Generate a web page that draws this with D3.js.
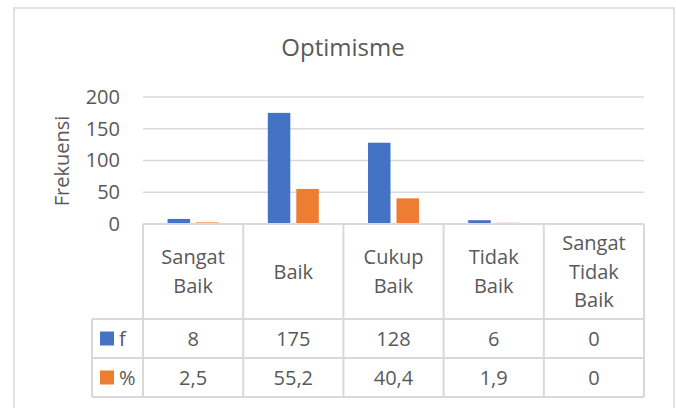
<!DOCTYPE html>
<html>
<head>
<meta charset="utf-8">
<script src="https://cdn.jsdelivr.net/npm/d3@7"></script>
<style>
    body { margin: 0; background: #fff; }
    svg text { font-family: "Open Sans", "Noto Sans", sans-serif; fill: #595959; }
</style>
</head>
<body>
<div class="chart"></div>
<script>
const categories = [["Sangat", "Baik"], ["Baik"], ["Cukup", "Baik"], ["Tidak", "Baik"], ["Sangat", "Tidak", "Baik"]]
const seriesNames = ["f", "%"]
const freq = [8, 175, 128, 6, 0]
const pct = [2.5, 55.2, 40.4, 1.9, 0]
const yTicks = [0, 50, 100, 150, 200]
const colors = ["#4472C4", "#ED7D31"]

const W = 676, H = 408
const plot = { left: 143, right: 644, top: 97, bottom: 224 }
const rowTop = [224, 319, 358, 397]  // header, f, %, end
const grid = "#d9d9d9"

const svg = d3.select(".chart")
    .append("svg")
    .attr("width", W)
    .attr("height", H)

// chart border
svg.append("rect")
    .attr("x", 14).attr("y", 8)
    .attr("width", 660).attr("height", 420)
    .attr("fill", "none")
    .attr("stroke", grid)
    .attr("stroke-width", 1.5)

const x = d3.scaleBand()
    .domain(d3.range(categories.length))
    .range([plot.left, plot.right])

const xs = d3.scaleBand()
    .domain(seriesNames)
    .range([x.bandwidth() / 2 - 25.5, x.bandwidth() / 2 + 25.5])
    .paddingInner(0.21)

const y = d3.scaleLinear().domain([0, 200]).range([plot.bottom, plot.top])

//title
svg.append("text")
    .attr("x", 343)
    .attr("y", 56)
    .attr("text-anchor", "middle")
    .style("font-size", "24px")
    .text("Optimisme")

//y axis
const yAxis = svg.append("g")
    .attr("transform", `translate(${plot.left}, 0)`)
    .call(d3.axisLeft(y).tickValues(yTicks).tickSize(0).tickPadding(23))
yAxis.select(".domain").remove()
yAxis.selectAll(".tick text")
    .style("font-size", "20px")
    .attr("font-family", null)
    .attr("fill", null)

// gridlines
svg.selectAll(".gridline")
    .data(yTicks.slice(1))
    .join("line")
    .attr("class", "gridline")
    .attr("x1", plot.left).attr("x2", plot.right)
    .attr("y1", d => y(d)).attr("y2", d => y(d))
    .attr("stroke", grid)
    .attr("stroke-width", 1.5)

//y axis label
svg.append("text")
    .attr("transform", "rotate(-90)")
    .attr("x", -161)
    .attr("y", 69)
    .attr("text-anchor", "middle")
    .style("font-size", "20px")
    .text("Frekuensi")

// bars
const seriesData = [freq, pct]
seriesData.forEach((vals, s) => {
    svg.selectAll(".bar" + s)
        .data(vals)
        .join("rect")
        .attr("class", "bar" + s)
        .attr("x", (d, i) => x(i) + xs(seriesNames[s]))
        .attr("y", d => y(d))
        .attr("width", xs.bandwidth())
        .attr("height", d => y(0) - y(d))
        .attr("fill", colors[s])
})

// data table
const table = svg.append("g")
const lineAttrs = sel => sel.attr("stroke", grid).attr("stroke-width", 2)

// horizontal lines
table.append("line").call(lineAttrs)
    .attr("x1", plot.left).attr("x2", plot.right)
    .attr("y1", rowTop[0]).attr("y2", rowTop[0])
rowTop.slice(1).forEach(yy => {
    table.append("line").call(lineAttrs)
        .attr("x1", 92).attr("x2", plot.right)
        .attr("y1", yy).attr("y2", yy)
})
// vertical lines
table.append("line").call(lineAttrs)
    .attr("x1", 92).attr("x2", 92)
    .attr("y1", rowTop[1]).attr("y2", rowTop[3])
d3.range(categories.length + 1).forEach(i => {
    const xx = i < categories.length ? x(i) : plot.right
    table.append("line").call(lineAttrs)
        .attr("x1", xx).attr("x2", xx)
        .attr("y1", rowTop[0]).attr("y2", rowTop[3])
})

// category headers
const lineH = 28.5
categories.forEach((lines, i) => {
    const cy = (rowTop[0] + rowTop[1]) / 2
    const t = table.append("text")
        .attr("text-anchor", "middle")
        .style("font-size", "20px")
    lines.forEach((ln, j) => {
        t.append("tspan")
            .attr("x", x(i) + x.bandwidth() / 2)
            .attr("y", cy + (j - (lines.length - 1) / 2) * lineH)
            .attr("dy", "0.35em")
            .text(ln)
    })
})

// value rows
const fmt = v => String(v).replace(".", ",")
seriesData.forEach((vals, s) => {
    const cy = (rowTop[s + 1] + rowTop[s + 2]) / 2
    table.append("rect")
        .attr("x", 100).attr("y", cy - 7)
        .attr("width", 14).attr("height", 14)
        .attr("fill", colors[s])
    table.append("text")
        .attr("x", 119).attr("y", cy).attr("dy", "0.35em")
        .style("font-size", "20px")
        .text(seriesNames[s])
    vals.forEach((v, i) => {
        table.append("text")
            .attr("x", x(i) + x.bandwidth() / 2)
            .attr("y", cy).attr("dy", "0.35em")
            .attr("text-anchor", "middle")
            .style("font-size", "20px")
            .text(fmt(v))
    })
})
</script>
</body>
</html>
